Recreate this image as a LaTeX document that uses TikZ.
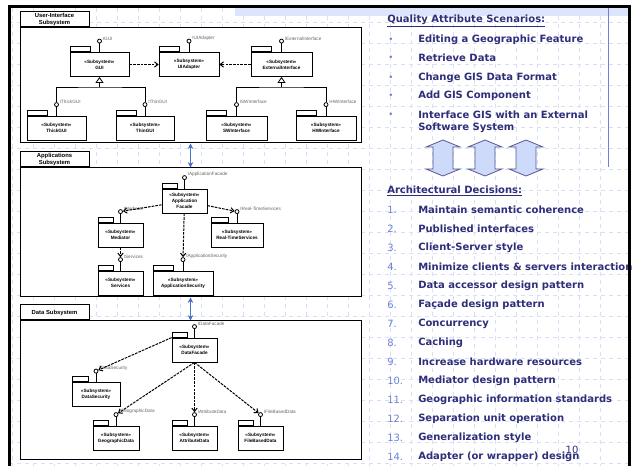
\documentclass[tikz,border=0pt]{standalone}
\usepackage{fontspec}
\usepackage{tikz}
\usetikzlibrary{arrows.meta}
\newfontfamily\diafont{Liberation Sans}
\newfontfamily\slidefont{DejaVu Sans}
\definecolor{navy}{RGB}{46,46,122}
\definecolor{numblue}{RGB}{110,130,215}
\definecolor{gridblue}{RGB}{214,224,246}
\definecolor{linkblue}{RGB}{72,112,200}
\definecolor{pale}{RGB}{205,218,250}
\newcommand{\stereo}{«Subsystem»}

\tikzset{
  subsys/.style={draw, fill=white, line width=0.75pt, inner sep=0pt},
  subtab/.style={draw, fill=white, line width=0.75pt, inner sep=0pt, anchor=south west, align=center,
    minimum width=51.75pt, minimum height=11.25pt, font=\diafont\bfseries\fontsize{4.4}{5}\selectfont},
  pkg/.style={draw, fill=white, line width=0.6pt, inner sep=0pt, align=center, minimum height=18pt,
    font=\diafont\bfseries\fontsize{3.5}{4.3}\selectfont},
  pkgtab/.style={draw, fill=white, line width=0.6pt, inner sep=0pt, anchor=south west,
    minimum height=3.75pt, minimum width=#1},
  lolli/.style={circle, draw, fill=white, line width=0.6pt, inner sep=0pt, minimum size=3pt},
  iflabel/.style={anchor=south west, inner sep=0.5pt, text=black!60, font=\diafont\fontsize{3.5}{4}\selectfont},
  stick/.style={line width=0.6pt},
  dep/.style={dash pattern=on 2pt off 0.8pt, line width=0.75pt, -{Straight Barb[length=2.5pt, width=4pt]}},
  gen/.style={line width=0.6pt, -{Triangle[open, length=4.5pt, width=6pt]}},
  link/.style={line width=0.9pt, linkblue, {Stealth[length=4pt, width=4pt]}-{Stealth[length=4pt, width=4pt]}},
  item/.style={anchor=west, inner sep=0pt, text=navy, font=\slidefont\bfseries\fontsize{7.5}{9}\selectfont},
  num/.style={anchor=west, inner sep=0pt, text=numblue, font=\slidefont\fontsize{7.5}{9}\selectfont},
  bigarrow/.style={draw=navy!80, fill=pale, line width=0.6pt, line join=miter}
}

\begin{document}
\begin{tikzpicture}[x=0.75pt, y=-0.75pt]
\useasboundingbox (0,0) rectangle (632,466);
\fill[white] (0,0) rectangle (632,466);
\foreach \gx in {12,33,...,620} \draw[gridblue, dashed, line width=0.4pt] (\gx,8) -- (\gx,466);
\foreach \gy in {22,43,...,466} \draw[gridblue, dashed, line width=0.4pt] (9,\gy) -- (629,\gy);
\fill[pale!70] (235,8) rectangle (628,16);
\draw[numblue, line width=0.75pt] (608,8) -- (608,167);

% subsystem frames
\node[subsys, minimum width=255.75pt, minimum height=86.25pt] (uibox) at (190.5,85.5) {};
\node[subtab] (uitab) at (uibox.north west) {User-Interface\\Subsystem};
\node[subsys, minimum width=255.75pt, minimum height=96.75pt] (appbox) at (190.5,232.5) {};
\node[subtab] (apptab) at (appbox.north west) {Applications\\Subsystem};
\node[subsys, minimum width=255.75pt, minimum height=104.25pt] (databox) at (190.5,390.5) {};
\node[subtab] (datatab) at (databox.north west) {Data Subsystem};
\draw[link] (uibox) -- (appbox);
\draw[link] (appbox) -- (databox);

% user interface
\node[pkg, minimum width=44.25pt] (gui) at (99.5,64.5) {\stereo\\GUI};
\node[pkgtab=15pt] (guitab) at (gui.north west) {};
\node[lolli] (igui) at ([yshift=8.25pt]gui.north) {};
\node[iflabel] (lgui) at (igui.east) {IGUI};
\node[pkg, minimum width=45pt] (uiadapter) at (189,64.5) {\stereo\\UIAdapter};
\node[pkgtab=15pt] (uiadaptertab) at (uiadapter.north west) {};
\node[lolli] (iuiadapter) at ([yshift=8.25pt]uiadapter.north) {};
\node[iflabel] (luiadapter) at (iuiadapter.east) {IUIAdapter};
\node[pkg, minimum width=45.75pt] (extif) at (281.5,64.5) {\stereo\\ExternalInterface};
\node[pkgtab=15pt] (extiftab) at (extif.north west) {};
\node[lolli] (iextif) at ([yshift=8.25pt]extif.north) {};
\node[iflabel] (lextif) at (iextif.east) {IExternalInterface};
\node[pkg, minimum width=44.25pt] (thickgui) at (56.5,128) {\stereo\\ThickGUI};
\node[pkgtab=15pt] (thickguitab) at (thickgui.north west) {};
\node[lolli] (ithickgui) at ([yshift=8.25pt]thickgui.north) {};
\node[iflabel] (lthickgui) at (ithickgui.east) {IThickGUI};
\node[pkg, minimum width=43.5pt] (thingui) at (145,128) {\stereo\\ThinGUI};
\node[pkgtab=15pt] (thinguitab) at (thingui.north west) {};
\node[lolli] (ithingui) at ([yshift=8.25pt]thingui.north) {};
\node[iflabel] (lthingui) at (ithingui.east) {IThinGUI};
\node[pkg, minimum width=45.75pt] (swif) at (236.5,128) {\stereo\\SWInterface};
\node[pkgtab=15pt] (swiftab) at (swif.north west) {};
\node[lolli] (iswif) at ([yshift=8.25pt]swif.north) {};
\node[iflabel] (lswif) at (iswif.east) {ISWInterface};
\node[pkg, minimum width=45pt] (hwif) at (326,128) {\stereo\\HWInterface};
\node[pkgtab=15pt] (hwiftab) at (hwif.north west) {};
\node[lolli] (ihwif) at ([yshift=8.25pt]hwif.north) {};
\node[iflabel] (lhwif) at (ihwif.east) {IHWInterface};
\foreach \p in {gui,uiadapter,extif,thickgui,thingui,swif,hwif} \draw[stick] (\p) -- (i\p);
\coordinate (guijoin) at (99.5,87);
\coordinate (extjoin) at (281.5,87);
\draw[stick] (ithickgui) |- (guijoin) -| (ithingui);
\draw[gen] (guijoin) -- (gui);
\draw[stick] (iswif) |- (extjoin) -| (ihwif);
\draw[gen] (extjoin) -- (extif);
\draw[dep] (gui) -- (uiadapter);
\draw[dep] (extif) -- (uiadapter);

% applications
\node[pkg, minimum width=33.75pt] (appfacade) at (184.5,201) {\stereo\\Application\\Facade};
\node[pkgtab=11.25pt] (appfacadetab) at (appfacade.north west) {};
\node[lolli] (iappfacade) at ([yshift=8.25pt]appfacade.north) {};
\node[iflabel] (lappfacade) at (iappfacade.east) {IApplicationFacade};
\node[pkg, minimum width=33.75pt] (mediator) at (120.5,235) {\stereo\\Mediator};
\node[pkgtab=11.25pt] (mediatortab) at (mediator.north west) {};
\node[lolli] (imediator) at ([yshift=8.25pt]mediator.north) {};
\node[iflabel] (lmediator) at (imediator.east) {IMediator};
\node[pkg, minimum width=39pt] (rts) at (237,235) {\stereo\\Real-TimeServices};
\node[pkgtab=13pt] (rtstab) at (rts.north west) {};
\node[lolli] (irts) at ([yshift=8.25pt]rts.north) {};
\node[iflabel] (lrts) at (irts.east) {IReal-TimeServices};
\node[pkg, minimum width=33.75pt] (services) at (120.5,283) {\stereo\\Services};
\node[pkgtab=11.25pt] (servicestab) at (services.north west) {};
\node[lolli] (iservices) at ([yshift=8.25pt]services.north) {};
\node[iflabel] (lservices) at (iservices.east) {IServices};
\node[pkg, minimum width=45pt] (appsec) at (183,283) {\stereo\\ApplicationSecurity};
\node[pkgtab=15pt] (appsectab) at (appsec.north west) {};
\node[lolli] (iappsec) at ([yshift=8.25pt]appsec.north) {};
\node[iflabel] (lappsec) at (iappsec.east) {IApplicationSecurity};
\foreach \p in {appfacade,mediator,rts,services,appsec} \draw[stick] (\p) -- (i\p);
\draw[dep] (appfacade) -- (imediator);
\draw[dep] (appfacade) -- (irts);
\draw[dep] (appfacade) -- (iappsec);
\draw[dep] (mediator) -- (iservices);

% data
\node[pkg, minimum width=33.75pt] (datafacade) at (194.5,350) {\stereo\\DataFacade};
\node[pkgtab=11.25pt] (datafacadetab) at (datafacade.north west) {};
\node[lolli] (idatafacade) at ([yshift=8.25pt]datafacade.north) {};
\node[iflabel] (ldatafacade) at (idatafacade.east) {IDataFacade};
\node[pkg, minimum width=36pt] (datasec) at (96,394.5) {\stereo\\DataSecurity};
\node[pkgtab=12pt] (datasectab) at (datasec.north west) {};
\node[lolli] (idatasec) at ([yshift=8.25pt]datasec.north) {};
\node[iflabel] (ldatasec) at (idatasec.east) {IDataSecurity};
\node[pkg, minimum width=34.5pt] (geodata) at (116,438) {\stereo\\GeographicData};
\node[pkgtab=11.5pt] (geodatatab) at (geodata.north west) {};
\node[lolli] (igeodata) at ([yshift=8.25pt]geodata.north) {};
\node[iflabel] (lgeodata) at (igeodata.east) {IGeographicData};
\node[pkg, minimum width=33.75pt] (attrdata) at (194.5,438) {\stereo\\AttributeData};
\node[pkgtab=11.25pt] (attrdatatab) at (attrdata.north west) {};
\node[lolli] (iattrdata) at ([yshift=8.25pt]attrdata.north) {};
\node[iflabel] (lattrdata) at (iattrdata.east) {IAttributeData};
\node[pkg, minimum width=33.75pt] (filedata) at (260.5,438) {\stereo\\FileBasedData};
\node[pkgtab=11.25pt] (filedatatab) at (filedata.north west) {};
\node[lolli] (ifiledata) at ([yshift=8.25pt]filedata.north) {};
\node[iflabel] (lfiledata) at (ifiledata.east) {IFileBasedData};
\foreach \p in {datafacade,datasec,geodata,attrdata,filedata} \draw[stick] (\p) -- (i\p);
\draw[dep] (datafacade.north west) -- (idatasec);
\draw[dep] (datafacade.south) -- (igeodata);
\draw[dep] (datafacade.south) -- (iattrdata);
\draw[dep] (datafacade.south) -- (ifiledata);

% slide text
\node[item] (qas) at (387,21) {\underline{Quality Attribute Scenarios:}};
\foreach \y/\t [count=\i] in {40/Editing a Geographic Feature, 58/Retrieve Data, 78/Change GIS Data Format,
  96/Add GIS Component, 115/Interface GIS with an External}
{
  \node[num, font=\slidefont\fontsize{6.5}{7}\selectfont] (b\i) at (388,\y) {•};
  \node[item] (q\i) at (418,\y) {\t};
}
\node[item] (q6) at (418,128) {Software System};
\foreach \cx in {443,485,526}
  \draw[bigarrow] (\cx,140) -- (\cx+17,147) -- (\cx+10,147) -- (\cx+10,169) -- (\cx+17,169) -- (\cx,176)
    -- (\cx-17,169) -- (\cx-10,169) -- (\cx-10,147) -- (\cx-17,147) -- cycle;
\node[item] (ad) at (387,191) {\underline{Architectural Decisions:}};
\foreach \t [count=\i] in {Maintain semantic coherence, Published interfaces, Client-Server style,
  Minimize clients \& servers interaction, Data accessor design pattern, Façade design pattern,
  Concurrency, Caching, Increase hardware resources, Mediator design pattern,
  Geographic information standards, Separation unit operation, Generalization style,
  Adapter (or wrapper) design}
{
  \node[num] (n\i) at (387,{191+19*\i}) {\i.};
  \node[item] (d\i) at (418,{191+19*\i}) {\t};
}
\node[num, anchor=center, text=navy] (pagenum) at (572,450) {10};

\draw[line width=2.25pt] (9,466) -- (9,7) -- (629.5,7) -- (629.5,466);
\end{tikzpicture}
\end{document}
